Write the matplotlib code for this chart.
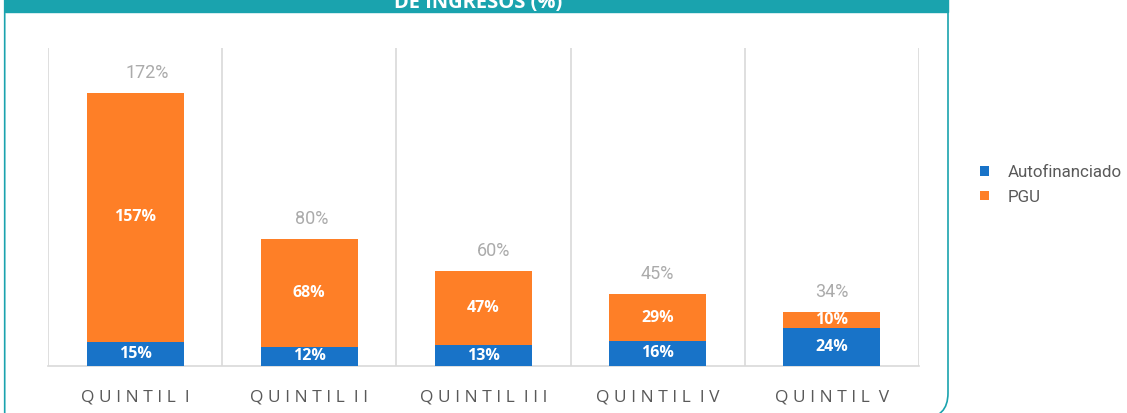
import matplotlib.pyplot as plt
from matplotlib.patches import PathPatch, Rectangle
from matplotlib.path import Path

# Data
categories = ["QUINTIL I", "QUINTIL II", "QUINTIL III", "QUINTIL IV", "QUINTIL V"]
autofinanciado = [15, 12, 13, 16, 24]
pgu = [157, 68, 47, 29, 10]
totales = [172, 80, 60, 45, 34]

BLUE = "#1873C8"
ORANGE = "#FE7F27"
TEAL = "#1AA3AE"
GRID = "#D9D9D9"

fig = plt.figure(figsize=(11.27, 4.13), dpi=100)
W, H = 1127, 413
ax = fig.add_axes([48 / W, 1 - 366 / H, (919 - 48) / W, (366 - 48) / H])

x = list(range(len(categories)))
b1 = ax.bar(x, autofinanciado, width=0.557, color=BLUE, label="Autofinanciado", zorder=3)
b2 = ax.bar(x, pgu, width=0.557, bottom=autofinanciado, color=ORANGE, label="PGU", zorder=3)

lab_font = dict(family="Open Sans", fontweight="bold", fontsize=11.5, color="white")
ax.bar_label(b1, labels=[f"{v}%" for v in autofinanciado], label_type="center", **lab_font)
ax.bar_label(b2, labels=[f"{v}%" for v in pgu], label_type="center", **lab_font)

# total labels (a few sit slightly right of centre in the original)
total_dx = [12, 2, 10, 0, 0]
for i, t in enumerate(totales):
    ax.annotate(f"{t}%", xy=(i, t), xytext=(total_dx[i], 20), textcoords="offset pixels",
                ha="center", va="center", fontsize=13, color="#ABABAB",
                family="Roboto")

ax.set_xlim(-0.5, len(categories) - 0.5)
ax.set_ylim(0, 200)
for b in range(len(categories) + 1):
    ax.axvline(b - 0.5, color=GRID, lw=1.2, zorder=1)

for s in ["top", "left", "right"]:
    ax.spines[s].set_visible(False)
ax.spines["bottom"].set_color(GRID)
ax.spines["bottom"].set_linewidth(1.2)
ax.set_yticks([])
ax.set_xticks(x)
ax.set_xticklabels([])
ax.tick_params(axis="x", length=0)

# spaced category labels
for i, c in enumerate(categories):
    spaced = "  ".join(" ".join(w) for w in c.split())
    ax.annotate(spaced, xy=(i, 0), xycoords=("data", "axes fraction"),
                xytext=(0, -35), textcoords="offset pixels",
                ha="center", va="baseline", fontsize=12.5, color="#595959",
                family="Open Sans")

leg = ax.legend(handles=[b1, b2], loc="center left",
                bbox_to_anchor=(972 / W, 1 - 185 / H), bbox_transform=fig.transFigure,
                frameon=False, borderpad=0, handlelength=0.5, handleheight=0.5,
                handletextpad=1.1, labelspacing=0.55,
                prop=dict(family="Roboto", size=12.2))
for t in leg.get_texts():
    t.set_color("#595959")

# panel frame (straight left side, rounded bottom-right corner) and header
def px(xp, yp):
    return (xp / 100, (H - yp) / 100)

verts = [px(4.7, 430), px(4.7, -20), px(948, -20), px(948, 393),
         px(948, 418), px(923, 418)]
codes = [Path.MOVETO, Path.LINETO, Path.LINETO, Path.LINETO,
         Path.CURVE3, Path.CURVE3]
frame = PathPatch(Path(verts, codes), transform=fig.dpi_scale_trans,
                  fill=False, edgecolor=TEAL, lw=1.2)
fig.add_artist(frame)
header = Rectangle(px(4.7, 12), (948 - 4.7) / 100, 0.3,
                   transform=fig.dpi_scale_trans, color=TEAL)
fig.add_artist(header)
fig.text(478 / W, 1 - 8 / H, "DE INGRESOS (%)", ha="center", va="baseline",
         color="white", fontsize=14.5, fontweight="bold", family="Open Sans")

fig.savefig("out.png", dpi=100)
